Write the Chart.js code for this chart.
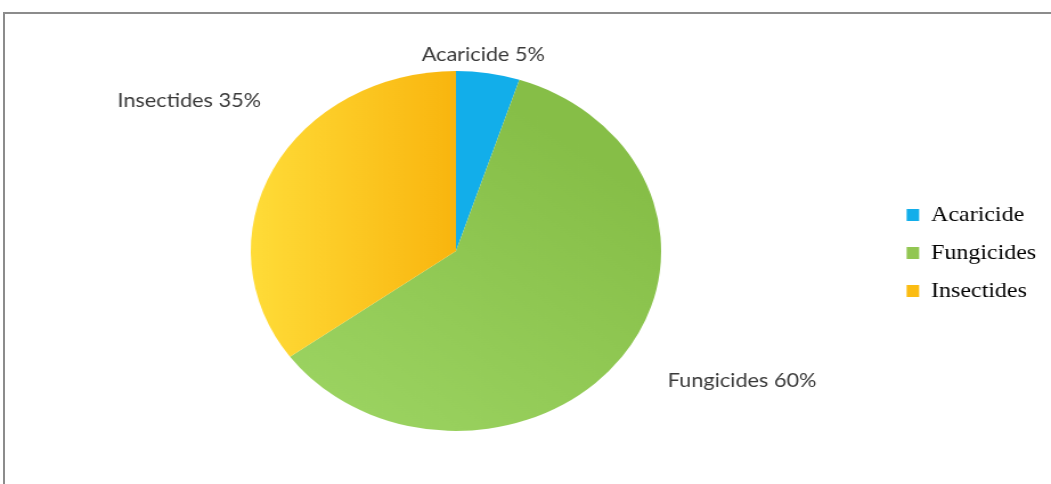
<!DOCTYPE html>
<html>
<head>
<meta charset="utf-8">
<script src="https://cdn.jsdelivr.net/npm/chart.js@4/dist/chart.umd.min.js"></script>
<style>
  html, body { margin: 0; padding: 0; background: #fff; overflow: hidden; }
  #frame {
    position: absolute; left: 3px; top: 12px; right: 0; bottom: 0;
    border-left: 2px solid #8c8c8c; border-top: 2px solid #8c8c8c;
  }
  /* the original picture is stretched sideways, so stretch ours the same way */
  #wrap {
    position: absolute; left: 0; top: 0; width: 922px; height: 484px;
    transform: scaleX(1.1399); transform-origin: 0 0;
  }
</style>
</head>
<body>
<div id="frame"></div>
<div id="wrap"><canvas id="pieChart" width="922" height="484"></canvas></div>
<script>
// Pesticide share by type
const categories = ['Acaricide', 'Fungicides', 'Insectides'];
const shares = [5, 60, 35];
const sliceLabels = ['Acaricide 5%', 'Fungicides 60%', 'Insectides 35%'];
const legendColors = ['#12aeea', '#92c652', '#fbbc12'];

// gradient stops per slice (light -> dark)
const gradStops = [
    ['#1ab4f0', '#0aa2df'],
    ['#9cd462', '#86be47'],
    ['#ffdc38', '#f9b50e']
];

// pie centre and radius in canvas units (before the sideways stretch)
const CENTER_X = 400, CENTER_Y = 251;
const RADIUS = 180;

// label anchors (centre of text), canvas units
const labelPos = [[424, 55], [651, 381], [166, 101]];

function sliceFill(context) {
    const chart = context.chart;
    const i = context.dataIndex;
    const arc = chart.getDatasetMeta(0).data[0];
    if (!arc || !arc.x) return legendColors[i];
    const ctx = chart.ctx;
    const cx = arc.x, cy = arc.y, r = RADIUS;
    let g;
    if (i === 2) {
        g = ctx.createLinearGradient(cx - r, cy, cx, cy);
    } else if (i === 1) {
        g = ctx.createLinearGradient(cx - r * 0.6, cy + r, cx + r * 0.6, cy - r * 0.6);
    } else {
        g = ctx.createLinearGradient(cx, cy, cx + r * 0.4, cy);
    }
    g.addColorStop(0, gradStops[i][0]);
    g.addColorStop(1, gradStops[i][1]);
    return g;
}

// move the pie to where it sits in the original
const placePlugin = {
    id: 'place',
    beforeDatasetsDraw(chart) {
        const arc = chart.getDatasetMeta(0).data[0];
        const ctx = chart.ctx;
        ctx.save();
        ctx.translate(CENTER_X - arc.x, CENTER_Y - arc.y);
    },
    afterDatasetsDraw(chart) {
        chart.ctx.restore();
    }
};

const sliceLabelPlugin = {
    id: 'sliceLabels',
    afterDraw(chart) {
        const ctx = chart.ctx;
        ctx.save();
        ctx.font = '19px Lato, "Open Sans", sans-serif';
        ctx.fillStyle = '#3a3a3a';
        ctx.textAlign = 'center';
        ctx.textBaseline = 'middle';
        sliceLabels.forEach((t, i) => {
            ctx.fillText(t, labelPos[i][0], labelPos[i][1]);
        });
        ctx.restore();
    }
};

new Chart(document.getElementById('pieChart'), {
    type: 'pie',
    data: {
        labels: categories,
        datasets: [{
            data: shares,
            backgroundColor: sliceFill,
            borderWidth: 0,
            radius: RADIUS
        }]
    },
    options: {
        responsive: false,
        animation: false,
        events: [],
        layout: { padding: { top: 72, bottom: 50, left: 10, right: 3 } },
        plugins: {
            tooltip: { enabled: false },
            legend: {
                position: 'right',
                labels: {
                    font: { family: '"Liberation Serif", "Times New Roman", serif', size: 21 },
                    color: '#000',
                    boxWidth: 11,
                    boxHeight: 12,
                    padding: 17,
                    generateLabels(chart) {
                        return categories.map((c, i) => ({
                            text: c,
                            fillStyle: legendColors[i],
                            strokeStyle: legendColors[i],
                            lineWidth: 0,
                            index: i
                        }));
                    }
                }
            }
        }
    },
    plugins: [placePlugin, sliceLabelPlugin]
});
</script>
</body>
</html>
